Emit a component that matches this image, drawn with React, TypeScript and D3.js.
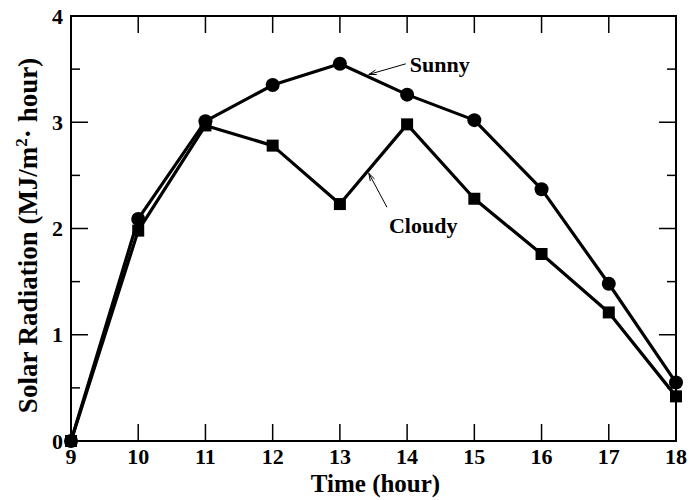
import React, { useRef, useEffect } from 'react';
import * as d3 from 'd3';

const hours = [9, 10, 11, 12, 13, 14, 15, 16, 17, 18];
const sunny = [0, 2.09, 3.01, 3.35, 3.55, 3.26, 3.02, 2.37, 1.48, 0.55];
const cloudy = [0, 1.98, 2.97, 2.78, 2.23, 2.98, 2.28, 1.76, 1.21, 0.42];
const yTicks = [0, 1, 2, 3, 4];
const yMinorTicks = [0.5, 1.5, 2.5, 3.5];

const App = () => {
    const ref = useRef<SVGSVGElement>(null);

    useEffect(() => {
        const svg = d3.select(ref.current);
        svg.selectAll('*').remove();

        const margin = { top: 16, right: 14, bottom: 59, left: 71 };
        const width = 690 - margin.left - margin.right;
        const height = 500 - margin.top - margin.bottom;
        const font = '"Liberation Serif", "Times New Roman", serif';

        const g = svg.append('g')
            .attr('transform', 'translate(' + margin.left + ',' + margin.top + ')');

        const x = d3.scaleLinear().domain([9, 18]).range([0, width]);
        const y = d3.scaleLinear().domain([0, 4]).range([height, 0]);

        // frame ticks, pointing inward on every side
        const ticks = g.append('g').attr('stroke', '#000').attr('stroke-width', 1.5);
        hours.slice(1, -1).forEach(h => {
            ticks.append('line').attr('x1', x(h)).attr('x2', x(h)).attr('y1', height).attr('y2', height - 17);
            ticks.append('line').attr('x1', x(h)).attr('x2', x(h)).attr('y1', 0).attr('y2', 17);
        });
        yTicks.slice(1, -1).forEach(v => {
            ticks.append('line').attr('x1', 0).attr('x2', 17).attr('y1', y(v)).attr('y2', y(v));
            ticks.append('line').attr('x1', width).attr('x2', width - 17).attr('y1', y(v)).attr('y2', y(v));
        });
        yMinorTicks.forEach(v => {
            ticks.append('line').attr('x1', 0).attr('x2', 9).attr('y1', y(v)).attr('y2', y(v));
            ticks.append('line').attr('x1', width).attr('x2', width - 9).attr('y1', y(v)).attr('y2', y(v));
        });

        g.append('rect')
            .attr('width', width).attr('height', height)
            .attr('fill', 'none').attr('stroke', '#000').attr('stroke-width', 2);

        // tick labels
        g.append('g').selectAll('text').data(hours).enter().append('text')
            .attr('x', d => x(d)).attr('y', height + 23)
            .attr('text-anchor', 'middle')
            .style('font-family', font).style('font-weight', 'bold').style('font-size', '22px')
            .text(d => d);
        g.append('g').selectAll('text').data(yTicks).enter().append('text')
            .attr('x', -8).attr('y', d => y(d)).attr('dy', '0.35em')
            .attr('text-anchor', 'end')
            .style('font-family', font).style('font-weight', 'bold').style('font-size', '22px')
            .text(d => d);

        // series
        const line = d3.line<number>().x((_, i) => x(hours[i])).y(d => y(d));
        [sunny, cloudy].forEach(s => {
            g.append('path').datum(s)
                .attr('d', line)
                .attr('fill', 'none').attr('stroke', '#000').attr('stroke-width', 3.2)
                .attr('stroke-linejoin', 'round');
        });
        g.append('g').selectAll('circle').data(sunny).enter().append('circle')
            .attr('cx', (_, i) => x(hours[i])).attr('cy', d => y(d)).attr('r', 7).attr('fill', '#000');
        g.append('g').selectAll('rect').data(cloudy).enter().append('rect')
            .attr('x', (_, i) => x(hours[i]) - 6).attr('y', d => y(d) - 6)
            .attr('width', 12).attr('height', 12).attr('fill', '#000');

        // annotations
        const ann = g.append('g');
        const arrow = (x1: number, y1: number, x2: number, y2: number) => {
            ann.append('line').attr('x1', x1).attr('y1', y1).attr('x2', x2).attr('y2', y2)
                .attr('stroke', '#000').attr('stroke-width', 1);
            const a = Math.atan2(y2 - y1, x2 - x1);
            const l = 8, w = 0.3;
            ann.append('path')
                .attr('d', 'M' + x2 + ',' + y2 +
                    'L' + (x2 - l * Math.cos(a - w)) + ',' + (y2 - l * Math.sin(a - w)) +
                    'M' + x2 + ',' + y2 +
                    'L' + (x2 - l * Math.cos(a + w)) + ',' + (y2 - l * Math.sin(a + w)))
                .attr('stroke', '#000').attr('fill', 'none').attr('stroke-width', 1);
        };
        arrow(x(13.98), y(3.55), x(13.43), y(3.45));
        arrow(x(13.7), y(2.2), x(13.43), y(2.52));
        ann.append('text').attr('x', x(14.04)).attr('y', y(3.55)).attr('dy', '0.35em')
            .style('font-family', font).style('font-weight', 'bold').style('font-size', '22px')
            .text('Sunny');
        ann.append('text').attr('x', x(13.73)).attr('y', y(2.03)).attr('dy', '0.35em')
            .style('font-family', font).style('font-weight', 'bold').style('font-size', '22px')
            .text('Cloudy');

        // axis titles
        g.append('text')
            .attr('x', width / 2 + 2).attr('y', height + 51)
            .attr('text-anchor', 'middle')
            .style('font-family', font).style('font-weight', 'bold').style('font-size', '25px')
            .text('Time (hour)');
        const yl = g.append('text')
            .attr('transform', 'translate(-34,' + (height / 2 + 7) + ') rotate(-90)')
            .attr('text-anchor', 'middle')
            .style('font-family', font).style('font-weight', 'bold').style('font-size', '27px');
        yl.append('tspan').text('Solar Radiation (MJ/m');
        yl.append('tspan').attr('dy', -10).style('font-size', '17px').text('2');
        yl.append('tspan').attr('dy', 10).text('\u00b7 hour)');
    }, []);

    return (
        <svg ref={ref} width={690} height={500} style={{ position: 'absolute', left: 0, top: 0, background: '#fff' }}></svg>
    );
};

export default App;
